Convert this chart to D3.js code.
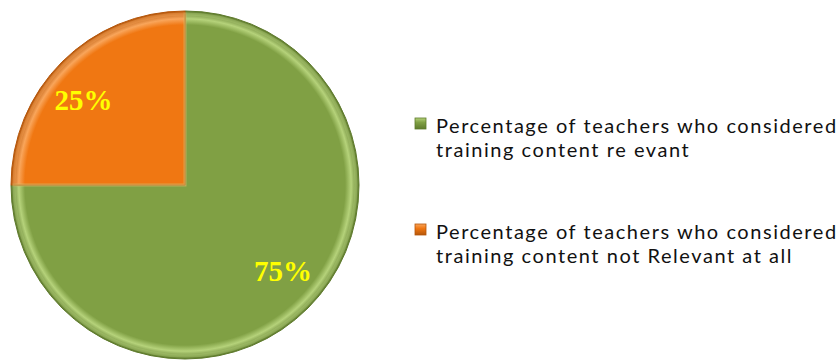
<!DOCTYPE html>
<html lang="en">
<head>
  <meta charset="UTF-8" />
  <title>Training content relevance</title>
  <script src="https://d3js.org/d3.v7.min.js"></script>
  <style>
    body { margin: 0; background: #fff; }
    svg { display: block; }
    .legend text { font-family: Lato, "Open Sans", sans-serif; font-size: 20px; letter-spacing: 1.55px; fill: #111; }
    .pct { font-family: "Liberation Serif", "DejaVu Serif", serif; font-weight: bold; font-size: 29px; fill: #ffff00; }
  </style>
</head>
<body>

<svg width="837" height="360"></svg>

<script>
  // data
  const labels = [
    ["Percentage of teachers who considered", "training content re evant"],
    ["Percentage of teachers who considered", "training content not Relevant at all"]
  ];
  const values = [75, 25];
  const pctLabels = ["75%", "25%"];
  const colors = ["#80a044", "#f07712"];
  const darkColors = ["#5e7a2c", "#b5560a"];
  const lightColors = ["#b5d27a", "#f9a55a"];

  const svg = d3.select("svg");
  const cx = 185, cy = 185, r = 174;

  const defs = svg.append("defs");
  colors.forEach((c, i) => {
    const grad = defs.append("radialGradient")
      .attr("id", "bevel" + i)
      .attr("gradientUnits", "userSpaceOnUse")
      .attr("cx", 0).attr("cy", 0).attr("r", r);
    grad.append("stop").attr("offset", "0%").attr("stop-color", c);
    grad.append("stop").attr("offset", "92%").attr("stop-color", c);
    grad.append("stop").attr("offset", "95.5%").attr("stop-color", lightColors[i]);
    grad.append("stop").attr("offset", "100%").attr("stop-color", darkColors[i]);

    const lg = defs.append("linearGradient")
      .attr("id", "leg" + i)
      .attr("x1", 0).attr("y1", 0).attr("x2", 0).attr("y2", 1);
    lg.append("stop").attr("offset", "0%").attr("stop-color", lightColors[i]);
    lg.append("stop").attr("offset", "40%").attr("stop-color", c);
    lg.append("stop").attr("offset", "100%").attr("stop-color", darkColors[i]);
  });

  const pie = d3.pie().sort(null).value(d => d);
  const arcs = pie(values);
  const arc = d3.arc().innerRadius(0).outerRadius(r);

  const g = svg.append("g").attr("transform", `translate(${cx},${cy})`);

  g.selectAll("path.slice")
    .data(arcs)
    .enter()
    .append("path")
    .attr("class", "slice")
    .attr("d", arc)
    .attr("fill", (d, i) => `url(#bevel${i})`)
    .attr("stroke", (d, i) => darkColors[i])
    .attr("stroke-width", 1);

  // inner bevel highlight along the slice edges
  g.selectAll("path.edge")
    .data(arcs)
    .enter()
    .append("path")
    .attr("class", "edge")
    .attr("d", d3.arc().innerRadius(0).outerRadius(r - 3))
    .attr("fill", "none")
    .attr("stroke", (d, i) => lightColors[i])
    .attr("stroke-opacity", 0.35)
    .attr("stroke-width", 3);

  // percentage labels
  const labelPos = [[98, 89], [-101.5, -82]];
  g.selectAll("text.pct")
    .data(arcs)
    .enter()
    .append("text")
    .attr("class", "pct")
    .attr("x", (d, i) => labelPos[i][0])
    .attr("y", (d, i) => labelPos[i][1])
    .attr("text-anchor", "middle")
    .attr("dominant-baseline", "middle")
    .text((d, i) => pctLabels[i]);

  // legend
  const legend = svg.append("g").attr("class", "legend").attr("transform", "translate(415,118)");
  const legendY = d3.scaleOrdinal().domain([0, 1]).range([0, 106]);

  labels.forEach((lines, i) => {
    const item = legend.append("g").attr("transform", `translate(0,${legendY(i)})`);
    item.append("rect")
      .attr("x", 0).attr("y", 0)
      .attr("width", 11).attr("height", 11)
      .attr("fill", `url(#leg${i})`)
      .attr("stroke", darkColors[i])
      .attr("stroke-width", 0.8);
    lines.forEach((line, j) => {
      item.append("text")
        .attr("x", 21)
        .attr("y", 15 + j * 24)
        .text(line);
    });
  });
</script>

</body>
</html>
